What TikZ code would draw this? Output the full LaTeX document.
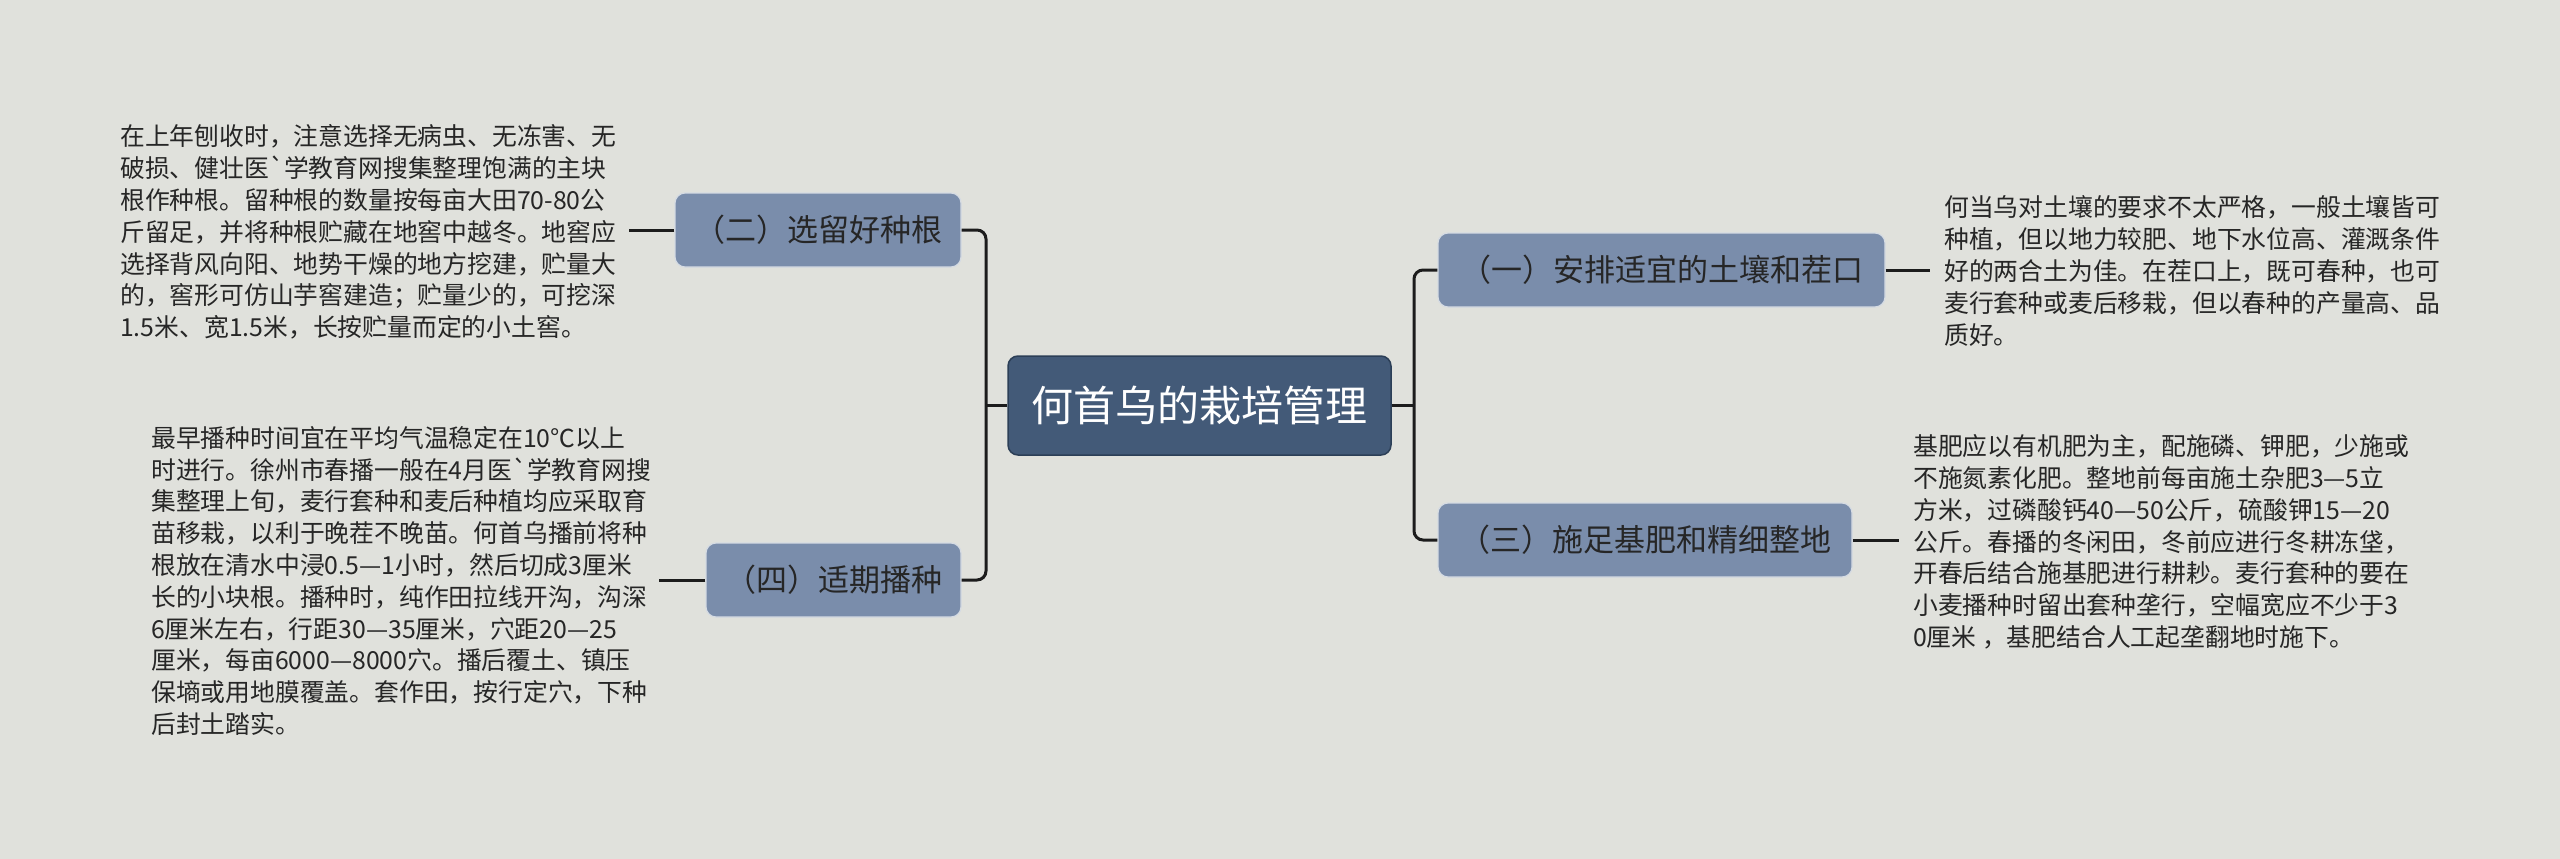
\documentclass[tikz,border=0pt]{standalone}
\usepackage{fontspec}
\newfontfamily\cjk{Noto Sans CJK SC}
\usetikzlibrary{calc}
\definecolor{bg}{HTML}{E0E1DC}
\definecolor{mainfill}{HTML}{435A78}
\definecolor{mainborder}{HTML}{2C3F57}
\definecolor{subfill}{HTML}{7A8DAB}
\definecolor{subborder}{HTML}{D5DBE3}
\definecolor{linec}{HTML}{1C1C1C}
\definecolor{txt}{HTML}{262626}
\begin{document}
\begin{tikzpicture}[x=1pt,y=-1pt,
 mainbox/.style={draw=mainborder, line width=1.5pt, fill=mainfill, rounded corners=10pt, minimum width=383pt, minimum height=99pt, inner sep=0pt, text=white, font=\cjk\fontsize{42}{50}\selectfont},
 subbox/.style={draw=subborder, line width=1.2pt, fill=subfill, rounded corners=10pt, minimum height=74pt, inner sep=0pt, text=txt, font=\cjk\fontsize{31}{38}\selectfont},
 body/.style={inner sep=0pt, align=left, text=txt, font=\cjk\fontsize{24.8}{31.8}\selectfont},
 conn/.style={draw=linec, line width=3pt}
]
\fill[bg] (0,0) rectangle (2560,859);
\useasboundingbox (0,0) rectangle (2560,859);

\node[mainbox] (c) at (1199.5,405.5) {何首乌的栽培管理};
\node[subbox, minimum width=286pt] (b2) at (818,230) {（二）选留好种根};
\node[subbox, minimum width=255pt] (b4) at (833.5,580) {（四）适期播种};
\node[subbox, minimum width=447pt] (b1) at (1661.5,270) {（一）安排适宜的土壤和茬口};
\node[subbox, minimum width=414pt] (b3) at (1645,540) {（三）施足基肥和精细整地};

\coordinate (lt) at (986,405.5);
\coordinate (rt) at (1414,405.5);
\draw[conn] (c.west) -- (lt);
\draw[conn] (c.east) -- (rt);
\draw[conn, rounded corners=9pt] (b2.east) -| (lt) |- (b4.east);
\draw[conn, rounded corners=9pt] (b1.west) -| (rt) |- (b3.west);

\coordinate (s2) at (629,230);
\coordinate (s4) at (659,580);
\coordinate (s1) at (1930,270);
\coordinate (s3) at (1899,540);
\draw[conn] (b2.west) -- (s2);
\draw[conn] (b4.west) -- (s4);
\draw[conn] (b1.east) -- (s1);
\draw[conn] (b3.east) -- (s3);

\node[body, anchor=west] (t2) at (120,232) {在上年刨收时，注意选择无病虫、无冻害、无\\破损、健壮医`学教育网搜集整理饱满的主块\\根作种根。留种根的数量按每亩大田70-80公\\斤留足，并将种根贮藏在地窖中越冬。地窖应\\选择背风向阳、地势干燥的地方挖建，贮量大\\的，窖形可仿山芋窖建造；贮量少的，可挖深\\1.5米、宽1.5米，长按贮量而定的小土窖。};

\node[body, anchor=west] (t4) at (151,581) {最早播种时间宜在平均气温稳定在10℃以上\\时进行。徐州市春播一般在4月医`学教育网搜\\集整理上旬，麦行套种和麦后种植均应采取育\\苗移栽，以利于晚茬不晚苗。何首乌播前将种\\根放在清水中浸0.5—1小时，然后切成3厘米\\长的小块根。播种时，纯作田拉线开沟，沟深\\6厘米左右，行距30—35厘米，穴距20—25\\厘米，每亩6000—8000穴。播后覆土、镇压\\保墒或用地膜覆盖。套作田，按行定穴，下种\\后封土踏实。};

\node[body, anchor=west] (t1) at (1944,271) {何当乌对土壤的要求不太严格，一般土壤皆可\\种植，但以地力较肥、地下水位高、灌溉条件\\好的两合土为佳。在茬口上，既可春种，也可\\麦行套种或麦后移栽，但以春种的产量高、品\\质好。};

\node[body, anchor=west] (t3) at (1913,542) {基肥应以有机肥为主，配施磷、钾肥，少施或\\不施氮素化肥。整地前每亩施土杂肥3—5立\\方米，过磷酸钙40—50公斤，硫酸钾15—20\\公斤。春播的冬闲田，冬前应进行冬耕冻垡，\\开春后结合施基肥进行耕耖。麦行套种的要在\\小麦播种时留出套种垄行，空幅宽应不少于3\\0厘米 ，基肥结合人工起垄翻地时施下。};
\end{tikzpicture}
\end{document}
